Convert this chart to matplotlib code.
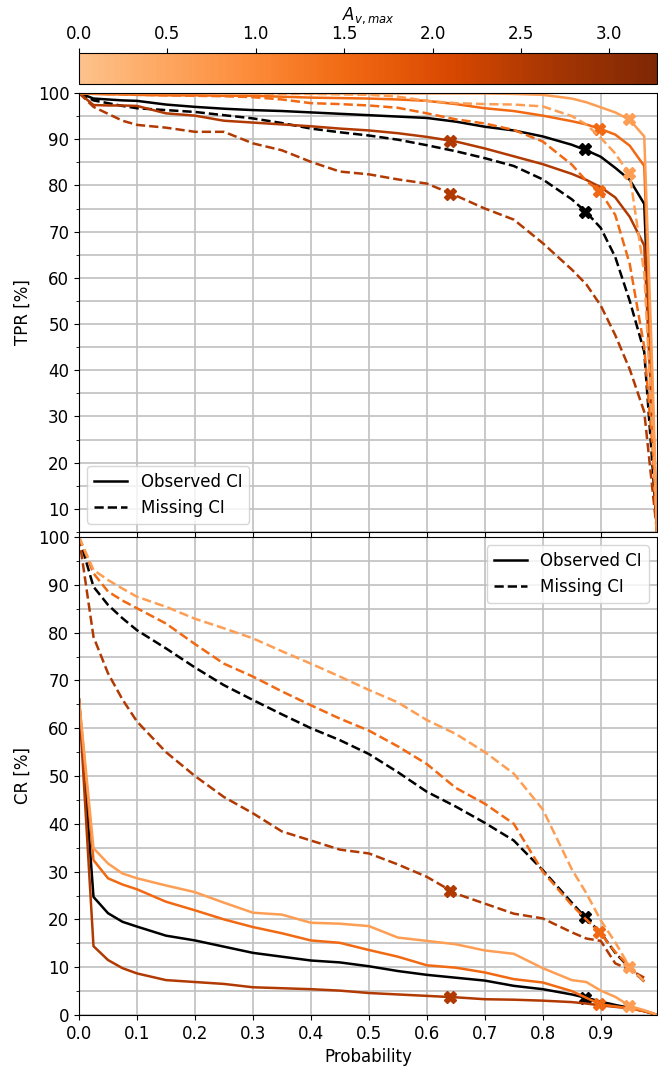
import matplotlib
matplotlib.use('Agg')
import matplotlib.pyplot as plt
import numpy as np
from matplotlib.colors import ListedColormap, Normalize
from matplotlib.cm import ScalarMappable

plt.rcParams['font.size'] = 12

# probability thresholds
prob = [0, 0.025, 0.05, 0.075, 0.1, 0.15, 0.2, 0.25, 0.3, 0.35, 0.4, 0.45, 0.5, 0.55,
        0.6, 0.65, 0.7, 0.75, 0.8, 0.85, 0.875, 0.9, 0.925, 0.95, 0.975, 0.99, 0.997]

# Av,max of the coloured groups (None = black reference)
av_light = 0.65
av_mid = 1.5
av_dark = 2.55

# TPR [%]
tpr_obs_black = [100, 98.8, 98.6, 98.4, 98.3, 97.5, 97.0, 96.6, 96.3, 96.1, 95.8, 95.5, 95.2, 94.9,
                 94.6, 93.8, 92.7, 91.9, 90.6, 88.8, 87.6, 86.2, 83.8, 81.2, 76.0, 28, 5]
tpr_mis_black = [100, 98.4, 97.8, 97.2, 96.7, 96.3, 95.9, 95.2, 94.5, 93.5, 92.3, 91.5, 90.8, 89.9,
                 88.7, 87.4, 85.9, 84.2, 81.3, 77.0, 74.2, 70.8, 64.5, 55.0, 44.0, 18, 5]
tpr_obs_light = [100, 100, 100, 100, 100, 100, 100, 100, 100, 100, 99.9, 99.9, 99.9, 99.9,
                 99.9, 99.9, 99.9, 99.8, 99.6, 98.8, 98.0, 96.9, 95.8, 94.2, 90.6, 36, 5]
tpr_mis_light = [100, 100, 100, 100, 100, 100, 100, 99.9, 99.9, 99.8, 99.8, 99.7, 99.6, 99.2,
                 98.3, 97.8, 97.6, 97.5, 97.1, 95.0, 93.2, 90.3, 86.9, 82.3, 61.0, 25, 5]
tpr_obs_mid = [100, 99.8, 99.7, 99.7, 99.6, 99.5, 99.5, 99.4, 99.4, 99.2, 99.0, 98.9, 98.8, 98.6,
               98.3, 97.6, 96.7, 96.1, 95.1, 93.9, 93.2, 92.2, 91.0, 88.6, 84.2, 32, 5]
tpr_mis_mid = [100, 99.9, 99.8, 99.7, 99.6, 99.5, 99.4, 99.3, 99.1, 98.6, 97.8, 97.6, 97.3, 96.8,
               95.6, 94.3, 93.4, 92.0, 89.5, 84.5, 81.0, 78.5, 73.6, 63.0, 45.0, 22, 5]
tpr_obs_dark = [100, 97.4, 97.3, 97.3, 97.2, 95.6, 95.1, 94.0, 93.6, 93.2, 92.8, 92.3, 91.9, 91.3,
                90.5, 89.5, 88.0, 86.3, 84.6, 82.5, 81.2, 79.6, 77.4, 73.2, 67.0, 25, 5]
tpr_mis_dark = [100, 97.0, 95.5, 94.0, 93.1, 92.5, 91.6, 91.6, 89.1, 87.6, 85.1, 83.0, 82.4, 81.3,
                80.4, 77.8, 75.0, 72.6, 67.5, 61.8, 58.6, 54.0, 47.6, 40.2, 31.0, 13.2, 5]

# CR [%]
nan = np.nan
cr_obs_black = [66, 24.7, 21.3, 19.5, 18.5, 16.6, 15.6, 14.3, 13.0, 12.2, 11.4, 11.0, 10.2, 9.2,
                8.4, 7.8, 7.2, 6.1, 5.4, 4.3, 3.6, 2.8, 2.1, 1.5, 0.8, 0.3, 0]
cr_mis_black = [100, 89.6, 85.8, 83.0, 80.5, 76.7, 72.7, 69.0, 65.9, 62.9, 60.0, 57.5, 54.6, 50.8,
                46.7, 43.6, 40.2, 36.5, 30.3, 23.5, 20.2, 17.2, 13.0, 9.8, 7.0, nan, nan]
cr_obs_light = [66, 34.9, 31.7, 29.6, 28.6, 27.1, 25.7, 23.5, 21.4, 21.0, 19.3, 19.1, 18.6, 16.2,
                15.5, 14.8, 13.5, 12.8, 9.8, 7.3, 6.9, 5.1, 3.8, 1.9, 1.0, 0.4, 0]
cr_mis_light = [100, 93.1, 91.0, 89.2, 87.5, 85.4, 82.9, 80.9, 78.8, 76.1, 73.5, 70.8, 68.0, 65.4,
                61.7, 58.8, 55.0, 50.5, 43.0, 30.5, 25.5, 19.8, 15.2, 10.0, 7.0, nan, nan]
cr_obs_mid = [66, 32.4, 28.6, 27.3, 26.3, 23.7, 21.9, 20.0, 18.4, 17.1, 15.6, 15.1, 13.6, 12.2,
              10.4, 9.9, 8.9, 7.5, 6.8, 5.0, 3.6, 2.2, 1.8, 1.4, 0.8, 0.3, 0]
cr_mis_mid = [100, 92.4, 88.6, 86.7, 85.1, 81.9, 77.6, 73.5, 70.8, 67.7, 64.8, 62.0, 59.5, 56.2,
              52.5, 47.5, 44.2, 40.0, 30.0, 23.0, 20.0, 17.0, 13.2, 10.0, 7.0, nan, nan]
cr_obs_dark = [66, 14.4, 11.5, 9.8, 8.7, 7.3, 6.9, 6.5, 5.8, 5.6, 5.4, 5.1, 4.6, 4.3,
               4.0, 3.7, 3.3, 3.2, 3.0, 2.7, 2.4, 2.0, 1.7, 1.4, 0.8, 0.3, 0]
cr_mis_dark = [100, 79.1, 71.5, 66.0, 61.4, 55.0, 50.0, 45.6, 42.2, 38.4, 36.5, 34.6, 33.8, 31.5,
               28.9, 25.4, 23.3, 21.2, 20.2, 17.3, 16.0, 15.5, 10.8, 9.5, 7.8, nan, nan]

# chosen thresholds (X markers): prob, TPR obs, TPR mis, CR obs, CR mis
mk_black = [0.872, 87.8, 74.3, 3.6, 20.4]
mk_light = [0.949, 94.3, 82.6, 1.9, 10.1]
mk_mid = [0.897, 92.3, 78.8, 2.4, 17.4]
mk_dark = [0.64, 89.7, 78.2, 3.7, 25.9]

cmap = ListedColormap(plt.cm.Oranges(np.linspace(0.3, 1.0, 256)))
norm = Normalize(vmin=0, vmax=3.27)

groups = [
    ('k', tpr_obs_black, tpr_mis_black, cr_obs_black, cr_mis_black, mk_black),
    (cmap(norm(av_dark)), tpr_obs_dark, tpr_mis_dark, cr_obs_dark, cr_mis_dark, mk_dark),
    (cmap(norm(av_mid)), tpr_obs_mid, tpr_mis_mid, cr_obs_mid, cr_mis_mid, mk_mid),
    (cmap(norm(av_light)), tpr_obs_light, tpr_mis_light, cr_obs_light, cr_mis_light, mk_light),
]

W, H = 658, 1075
fig = plt.figure(figsize=(W / 100, H / 100), dpi=100)
cax = fig.add_axes([79 / W, 1 - 84 / H, 578 / W, 31 / H])
ax1 = fig.add_axes([79 / W, 1 - 532 / H, 578 / W, 439 / H])
ax2 = fig.add_axes([79 / W, 1 - 1015 / H, 578 / W, 478 / H], sharex=ax1)

lw = 1.8
for c, to, tm, co, cm_, mk in groups:
    ax1.plot(prob, to, '-', color=c, lw=lw)
    ax1.plot(prob, tm, '--', color=c, lw=lw)
    ax1.plot([mk[0], mk[0]], [mk[1], mk[2]], 'X', color=c, ms=9, ls='none')
    ax2.plot(prob, co, '-', color=c, lw=lw)
    ax2.plot(prob, cm_, '--', color=c, lw=lw)
    ax2.plot([mk[0], mk[0]], [mk[3], mk[4]], 'X', color=c, ms=9, ls='none')

for ax in (ax1, ax2):
    ax.set_xlim(0, 0.997)
    ax.set_xticks(np.arange(0, 0.95, 0.1))
    ax.grid(True, which='major', color='#c0c0c0', lw=1.2)
    ax.grid(True, which='minor', axis='y', color='#c0c0c0', lw=1.2)
    ax.set_axisbelow(True)
    h1, = ax.plot([], [], 'k-', lw=lw, label='Observed CI')
    h2, = ax.plot([], [], 'k--', lw=lw, label='Missing CI')

ax1.set_ylim(5, 100)
ax1.set_yticks(np.arange(10, 101, 10))
ax1.set_yticks(np.arange(5, 100, 10), minor=True)
ax1.set_ylabel('TPR [%]')
ax1.tick_params(labelbottom=False)
ax1.legend(loc='lower left')

ax2.set_ylim(0, 100)
ax2.set_yticks(np.arange(0, 101, 10))
ax2.set_yticks(np.arange(5, 100, 10), minor=True)
ax2.set_ylabel('CR [%]')
ax2.set_xlabel('Probability')
ax2.legend(loc='upper right')

sm = ScalarMappable(norm=norm, cmap=cmap)
cb = fig.colorbar(sm, cax=cax, orientation='horizontal')
cax.xaxis.set_ticks_position('top')
cax.xaxis.set_label_position('top')
cb.set_ticks(np.arange(0, 3.01, 0.5))
cb.set_label('$A_{v,max}$')

plt.savefig('out.png', dpi=100)
